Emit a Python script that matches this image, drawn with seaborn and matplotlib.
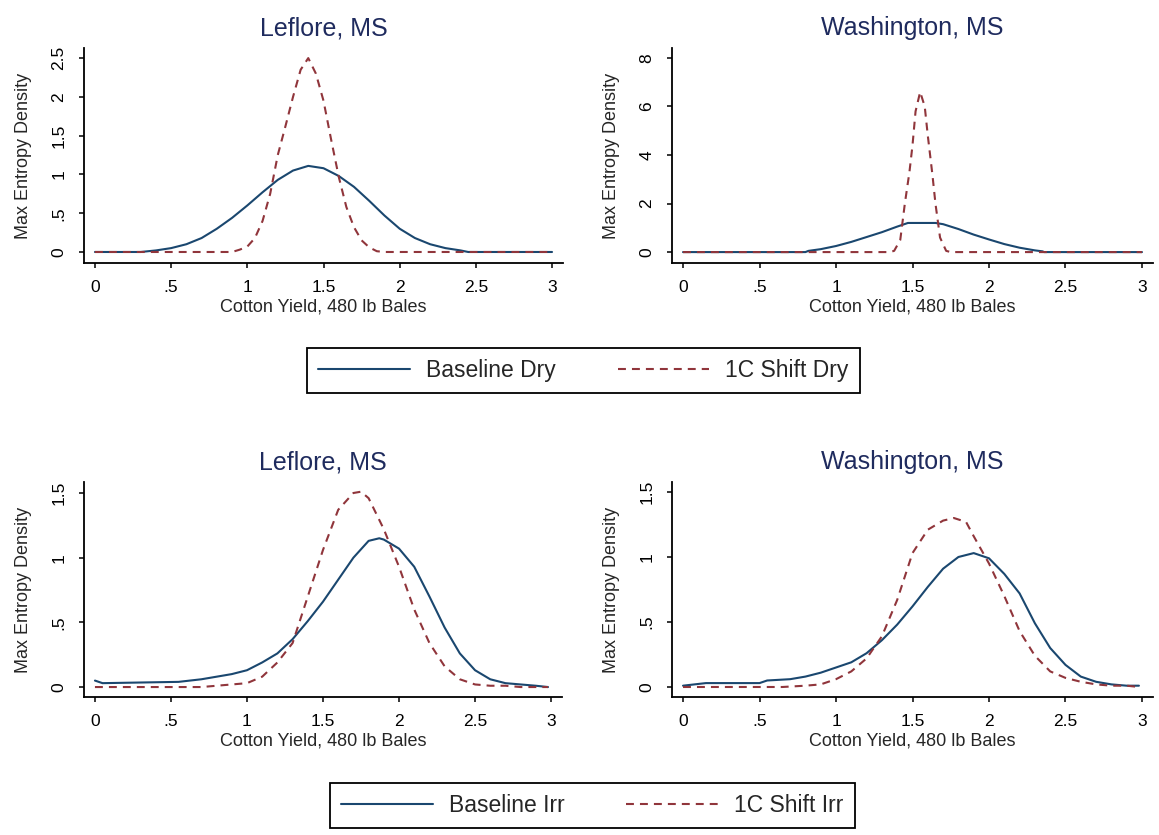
import matplotlib
matplotlib.use("Agg")
import matplotlib.pyplot as plt
import seaborn as sns

# values
leflore_dry_base_x = [0, 0.3, 0.4, 0.5, 0.6, 0.7, 0.8, 0.9, 1.0, 1.1, 1.2, 1.3, 1.4, 1.5, 1.6, 1.7, 1.8, 1.9, 2.0, 2.1, 2.2, 2.3, 2.4, 2.45, 3.0]
leflore_dry_base_y = [0, 0, 0.02, 0.05, 0.10, 0.18, 0.30, 0.44, 0.60, 0.77, 0.93, 1.05, 1.11, 1.08, 0.98, 0.84, 0.66, 0.47, 0.30, 0.18, 0.10, 0.05, 0.02, 0, 0]
leflore_dry_shift_x = [0, 0.9, 0.95, 1.0, 1.05, 1.1, 1.15, 1.2, 1.25, 1.3, 1.35, 1.4, 1.45, 1.5, 1.55, 1.6, 1.65, 1.7, 1.75, 1.8, 1.85, 1.9, 3.0]
leflore_dry_shift_y = [0, 0, 0.03, 0.07, 0.18, 0.40, 0.75, 1.25, 1.62, 2.0, 2.35, 2.5, 2.3, 1.95, 1.45, 0.97, 0.58, 0.32, 0.15, 0.06, 0.01, 0, 0]

wash_dry_base_x = [0, 0.8, 0.82, 0.9, 1.0, 1.1, 1.2, 1.3, 1.4, 1.47, 1.65, 1.7, 1.8, 1.9, 2.0, 2.1, 2.2, 2.3, 2.35, 2.36, 3.0]
wash_dry_base_y = [0, 0, 0.05, 0.12, 0.25, 0.42, 0.62, 0.82, 1.05, 1.2, 1.2, 1.15, 0.95, 0.72, 0.52, 0.33, 0.18, 0.07, 0.03, 0, 0]
wash_dry_shift_x = [0, 1.35, 1.38, 1.42, 1.45, 1.48, 1.5, 1.52, 1.55, 1.58, 1.6, 1.63, 1.65, 1.68, 1.72, 1.75, 3.0]
wash_dry_shift_y = [0, 0, 0.05, 0.5, 2.0, 3.3, 4.4, 5.8, 6.6, 6.0, 4.8, 3.2, 2.0, 0.6, 0.05, 0, 0]

leflore_irr_base_x = [0, 0.05, 0.55, 0.7, 0.8, 0.9, 1.0, 1.1, 1.2, 1.3, 1.4, 1.5, 1.6, 1.7, 1.8, 1.87, 1.9, 2.0, 2.1, 2.2, 2.3, 2.4, 2.5, 2.6, 2.7, 2.8, 2.9, 2.98]
leflore_irr_base_y = [0.05, 0.03, 0.04, 0.06, 0.08, 0.10, 0.13, 0.19, 0.26, 0.37, 0.51, 0.66, 0.83, 1.0, 1.13, 1.15, 1.14, 1.07, 0.93, 0.70, 0.46, 0.26, 0.13, 0.06, 0.03, 0.02, 0.01, 0.0]
leflore_irr_shift_x = [0, 0.7, 0.8, 0.9, 1.0, 1.1, 1.2, 1.3, 1.4, 1.5, 1.6, 1.7, 1.75, 1.8, 1.9, 2.0, 2.1, 2.2, 2.3, 2.4, 2.5, 2.6, 2.7, 2.8, 2.98]
leflore_irr_shift_y = [0, 0, 0.01, 0.02, 0.03, 0.08, 0.19, 0.34, 0.70, 1.06, 1.37, 1.50, 1.51, 1.46, 1.22, 0.93, 0.60, 0.34, 0.16, 0.06, 0.02, 0.01, 0.01, 0.0, 0.0]

wash_irr_base_x = [0, 0.15, 0.5, 0.55, 0.7, 0.8, 0.9, 1.0, 1.1, 1.2, 1.3, 1.4, 1.5, 1.6, 1.7, 1.8, 1.9, 2.0, 2.1, 2.2, 2.3, 2.4, 2.5, 2.6, 2.7, 2.8, 2.9, 2.98]
wash_irr_base_y = [0.01, 0.03, 0.03, 0.05, 0.06, 0.08, 0.11, 0.15, 0.19, 0.26, 0.36, 0.48, 0.62, 0.77, 0.91, 1.0, 1.03, 0.99, 0.87, 0.72, 0.49, 0.30, 0.17, 0.08, 0.04, 0.02, 0.01, 0.01]
wash_irr_shift_x = [0, 0.65, 0.8, 0.9, 1.0, 1.1, 1.2, 1.3, 1.4, 1.5, 1.6, 1.7, 1.77, 1.85, 1.9, 2.0, 2.1, 2.2, 2.3, 2.4, 2.5, 2.6, 2.7, 2.8, 2.9, 2.98]
wash_irr_shift_y = [0, 0, 0.01, 0.02, 0.06, 0.12, 0.22, 0.39, 0.67, 1.03, 1.21, 1.28, 1.30, 1.27, 1.16, 0.95, 0.70, 0.43, 0.24, 0.12, 0.07, 0.04, 0.02, 0.01, 0.01, 0.0]

x_ticks = [0, 0.5, 1, 1.5, 2, 2.5, 3]
x_ticklabels = ["0", ".5", "1", "1.5", "2", "2.5", "3"]
y_ticks_top_left = [0, 0.5, 1, 1.5, 2, 2.5]
y_ticklabels_top_left = ["0", ".5", "1", "1.5", "2", "2.5"]
y_ticks_top_right = [0, 2, 4, 6, 8]
y_ticklabels_top_right = ["0", "2", "4", "6", "8"]
y_ticks_bottom = [0, 0.5, 1, 1.5]
y_ticklabels_bottom = ["0", ".5", "1", "1.5"]

titles = ["Leflore, MS", "Washington, MS", "Leflore, MS", "Washington, MS"]
xlabel = "Cotton Yield, 480 lb Bales"
ylabel = "Max Entropy Density"
legend_dry = ["Baseline Dry", "1C Shift Dry"]
legend_irr = ["Baseline Irr", "1C Shift Irr"]

navy = "#1a476f"
maroon = "#90353b"
title_col = "#1f2b5e"

sns.set_style("ticks")
plt.rcParams["font.family"] = ["Liberation Sans", "DejaVu Sans"]

W, H = 1159, 835
fig = plt.figure(figsize=(W / 100, H / 100), dpi=100)


def make_ax(l, r, t, b):
    return fig.add_axes([l / W, 1 - b / H, (r - l) / W, (b - t) / H])


ax_tl = make_ax(84, 563, 48, 263)
ax_tr = make_ax(672, 1153, 48, 263)
ax_bl = make_ax(84, 562, 482, 697)
ax_br = make_ax(672, 1153, 482, 697)

panels = [
    (ax_tl, leflore_dry_base_x, leflore_dry_base_y, leflore_dry_shift_x, leflore_dry_shift_y,
     y_ticks_top_left, y_ticklabels_top_left, (-0.142, 2.63), legend_dry),
    (ax_tr, wash_dry_base_x, wash_dry_base_y, wash_dry_shift_x, wash_dry_shift_y,
     y_ticks_top_right, y_ticklabels_top_right, (-0.45, 8.41), legend_dry),
    (ax_bl, leflore_irr_base_x, leflore_irr_base_y, leflore_irr_shift_x, leflore_irr_shift_y,
     y_ticks_bottom, y_ticklabels_bottom, (-0.077, 1.585), legend_irr),
    (ax_br, wash_irr_base_x, wash_irr_base_y, wash_irr_shift_x, wash_irr_shift_y,
     y_ticks_bottom, y_ticklabels_bottom, (-0.077, 1.577), legend_irr),
]

for i, (ax, bx, by, sx, sy, yt, ytl, ylim, labs) in enumerate(panels):
    sns.lineplot(x=bx, y=by, ax=ax, color=navy, linewidth=1.5, estimator=None, label=labs[0])
    sns.lineplot(x=sx, y=sy, ax=ax, color=maroon, linewidth=1.5, estimator=None,
                 linestyle=(0, (3.8, 2.9)), label=labs[1])
    if ax.get_legend() is not None:
        ax.get_legend().remove()
    ax.set_xlim(-0.072, 3.072)
    ax.set_ylim(*ylim)
    ax.set_xticks(x_ticks)
    ax.set_xticklabels(x_ticklabels)
    ax.set_yticks(yt)
    ax.set_yticklabels(ytl, rotation=90, va="center")
    ax.tick_params(axis="both", direction="out", length=3.6, width=1.1, labelsize=12.5,
                   colors="black", pad=9)
    ax.set_title(titles[i], fontsize=18, color=title_col, pad=9)
    ax.set_xlabel(xlabel, fontsize=13, labelpad=2)
    ax.set_ylabel(ylabel, fontsize=13, labelpad=14)
    for side in ["top", "right"]:
        ax.spines[side].set_visible(False)
    for side in ["left", "bottom"]:
        ax.spines[side].set_linewidth(1.3)
        ax.spines[side].set_color("black")
    ax.set_facecolor("white")

for ax, anchor in [(ax_tl, (0.5034, 0.5563)), (ax_bl, (0.511, 0.0353))]:
    handles, labels = ax.get_legend_handles_labels()
    leg = fig.legend(handles, labels, loc="center", bbox_to_anchor=anchor, ncol=2,
                     fontsize=16.5, frameon=True, fancybox=False, edgecolor="black",
                     framealpha=1, handlelength=4.0, handletextpad=0.7,
                     columnspacing=2.7, borderpad=0.5)
    leg.get_frame().set_linewidth(1.3)

fig.savefig("out.png", dpi=100, facecolor="white")
